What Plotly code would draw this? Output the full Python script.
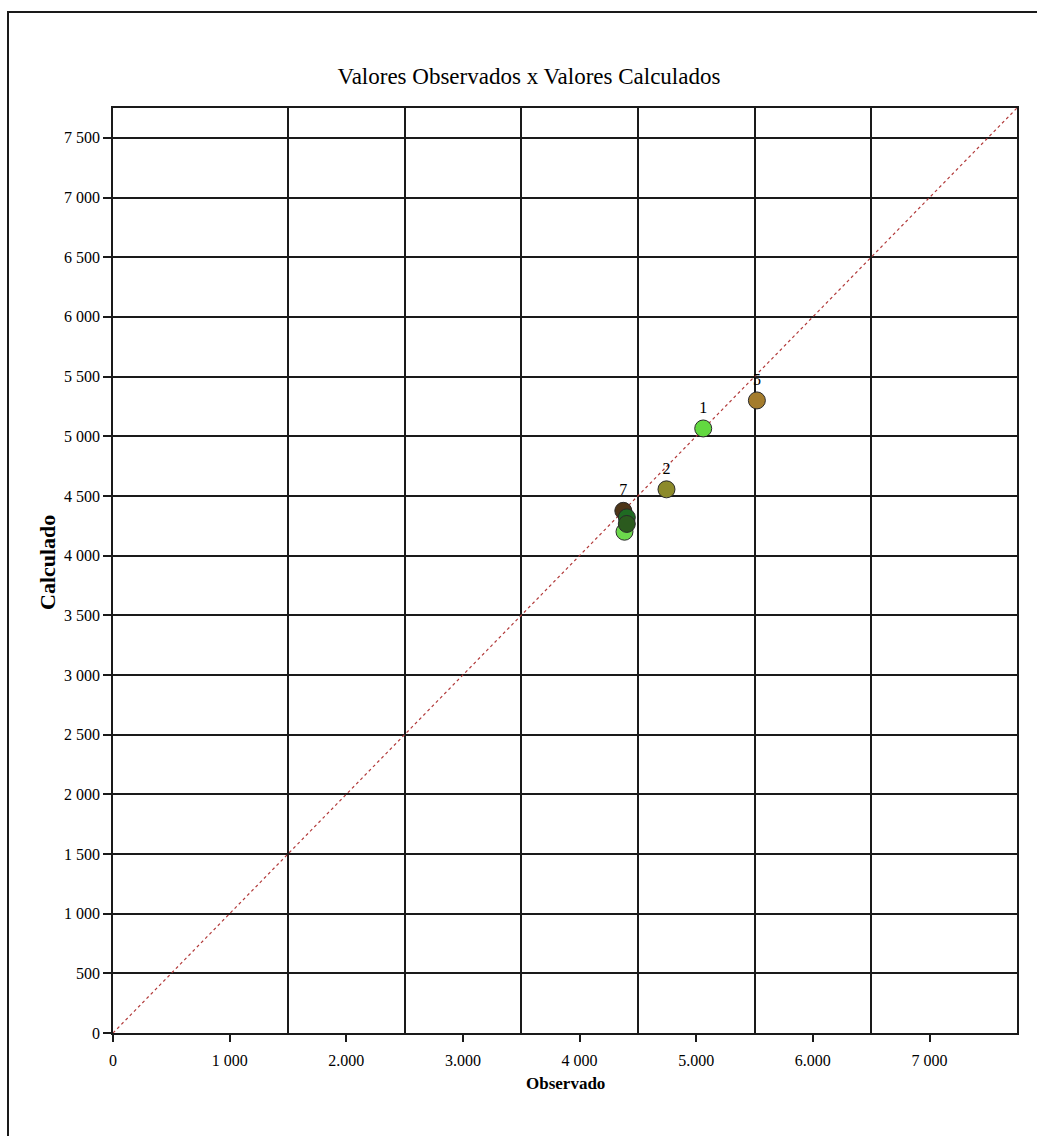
import plotly.graph_objects as go

# ---- data ----
labels = ["1", "2", "5", "6", "7", "3", "4"]
shown_labels = ["1", "2", "5", "", "7", "", ""]
observado = [5060, 4745, 5520, 4385, 4375, 4405, 4405]
calculado = [5065, 4555, 5300, 4200, 4375, 4320, 4265]
point_colors = ["#62d840", "#8c8a2a", "#a47c2c", "#6cd84c", "#4e3618", "#1f6a22", "#2b5a1e"]

identity = [0, 7750]

x_tickvals = [0, 1000, 2000, 3000, 4000, 5000, 6000, 7000]
x_ticktext = ["0", "1 000", "2.000", "3.000", "4 000", "5.000", "6.000", "7 000"]
x_gridvals = [1500, 2500, 3500, 4500, 5500, 6500]
y_tickvals = [0, 500, 1000, 1500, 2000, 2500, 3000, 3500, 4000, 4500, 5000, 5500, 6000, 6500, 7000, 7500]
y_ticktext = ["0", "500", "1 000", "1 500", "2 000", "2 500", "3 000", "3 500", "4 000",
              "4 500", "5 000", "5 500", "6 000", "6 500", "7 000", "7 500"]

title_text = "Valores Observados x Valores Calculados"
x_title = "Observado"
y_title = "Calculado"

# ---- layout geometry (pixels) ----
W, H = 1037, 1136
L, R, T, B = 113, 20, 108, 103
pw, ph = W - L - R, H - T - B

def px_x(p):
    return (p - L) / pw

def px_y(p):
    return (H - B - p) / ph

FONT = "Liberation Serif, Times New Roman, serif"
INK = "#1a1a1a"

fig = go.Figure()

fig.add_trace(go.Scatter(
    x=identity, y=identity, mode="lines",
    line=dict(color="#b23a3a", width=1.2, dash="dot"),
    hoverinfo="skip", showlegend=False,
))

fig.add_trace(go.Scatter(
    x=observado, y=calculado, mode="markers+text",
    text=shown_labels, textposition="top center",
    textfont=dict(family=FONT, size=16, color="black"),
    marker=dict(size=17, color=point_colors, line=dict(color="#2a2a2a", width=1)),
    hovertext=labels, showlegend=False,
))

fig.update_layout(
    width=W, height=H,
    margin=dict(l=L, r=R, t=T, b=B),
    paper_bgcolor="white", plot_bgcolor="white",
    font=dict(family=FONT, size=16, color="black"),
    title=dict(text=title_text, x=529 / W, xanchor="center", y=1 - 76 / H, yanchor="middle",
               font=dict(family=FONT, size=23, color="black")),
    xaxis=dict(
        range=[0, 7750], tickmode="array", tickvals=x_tickvals, ticktext=x_ticktext,
        ticks="outside", ticklen=7, tickwidth=1.5, tickcolor=INK,
        ticklabelstandoff=5,
        showgrid=False, zeroline=False,
        showline=True, mirror=True, linecolor=INK, linewidth=1.6,
        minor=dict(tickmode="array", tickvals=x_gridvals, showgrid=True,
                   gridcolor=INK, gridwidth=1.6, ticks=""),
        tickfont=dict(family=FONT, size=16, color="black"),
    ),
    yaxis=dict(
        range=[0, 7750], tickmode="array", tickvals=y_tickvals, ticktext=y_ticktext,
        ticks="outside", ticklen=8, tickwidth=1.5, tickcolor=INK,
        showgrid=True, gridcolor=INK, gridwidth=1.6, zeroline=False,
        showline=True, mirror=True, linecolor=INK, linewidth=1.6,
        tickfont=dict(family=FONT, size=16, color="black"),
    ),
    shapes=[dict(type="rect", xref="paper", yref="paper",
                 x0=px_x(8), x1=px_x(W + 10), y0=px_y(H + 10), y1=px_y(12),
                 line=dict(color=INK, width=2), fillcolor="rgba(0,0,0,0)", layer="above")],
    annotations=[
        dict(text="<b>" + x_title + "</b>", xref="paper", yref="paper",
             x=px_x(565), y=px_y(1083), xanchor="center", yanchor="middle",
             showarrow=False, font=dict(family=FONT, size=17, color="black")),
        dict(text="<b>" + y_title + "</b>", xref="paper", yref="paper",
             x=px_x(47), y=px_y(563), xanchor="center", yanchor="middle", textangle=-90,
             showarrow=False, font=dict(family=FONT, size=22, color="black")),
    ],
)

fig.write_html("out.html", config={"displayModeBar": False},
               post_script="document.body.style.margin='0';document.body.style.overflow='hidden';")
